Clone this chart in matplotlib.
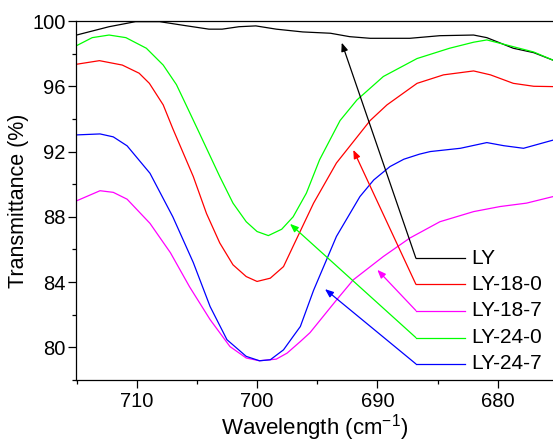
import numpy as np
import matplotlib
matplotlib.use('Agg')
import matplotlib.pyplot as plt

plt.rcParams['font.family'] = ['Liberation Sans', 'DejaVu Sans']
plt.rcParams['mathtext.default'] = 'regular'

# Datos (número de onda, transmitancia)
w_ly = [715, 712.3, 710.1, 708.1, 705.9, 704.0, 702.9, 701.5, 700.1, 698.4, 696.2,
        693.9, 692.3, 690.6, 687.3, 684.8, 682.0, 680.9, 678.7, 677.0, 675.4]
t_ly = [99.14, 99.65, 99.96, 99.96, 99.71, 99.5, 99.5, 99.65, 99.7, 99.5, 99.33,
        99.25, 99.04, 98.94, 98.94, 99.1, 99.14, 98.98, 98.33, 98.06, 97.6]

w_18_0 = [715, 713.1, 711.2, 709.8, 708.95, 707.8, 707.0, 705.3, 704.2, 703.1, 702.0,
          700.9, 700, 698.9, 697.8, 697.0, 695.3, 693.4, 690.6, 689.2, 686.7, 684.5,
          682.0, 680.6, 678.7, 677.0, 675.4]
t_18_0 = [97.35, 97.57, 97.3, 96.8, 96.18, 94.86, 93.4, 90.47, 88.2, 86.4, 85.06,
          84.34, 84.04, 84.24, 84.95, 86.2, 88.84, 91.3, 93.9, 94.86, 96.18, 96.7,
          96.94, 96.7, 96.18, 96.0, 95.98]

w_18_7 = [715, 713.05, 711.95, 710.8, 708.9, 707.2, 705.6, 703.9, 702.25, 700.9,
          699.8, 698.4, 697.5, 696.4, 695.6, 693.4, 692.0, 689.5, 687.3, 684.8,
          682.0, 679.8, 677.6, 675.4]
t_18_7 = [88.98, 89.6, 89.5, 89.08, 87.6, 85.8, 83.7, 81.7, 80.05, 79.35,
          79.18, 79.28, 79.65, 80.36, 80.9, 82.9, 84.14, 85.57, 86.7, 87.7,
          88.32, 88.63, 88.84, 89.24]

w_24_0 = [715, 713.7, 712.3, 710.9, 709.2, 707.8, 706.7, 705.9, 704.9, 703.1, 702.0,
          700.9, 700, 699.06, 697.95, 697.0, 695.9, 694.8, 693.1, 691.7, 689.5,
          686.7, 684.0, 682.0, 680.9, 679.25, 677.0, 675.4]
t_24_0 = [98.49, 98.98, 99.14, 98.98, 98.33, 97.3, 96.1, 94.86, 93.3, 90.47, 88.84,
          87.7, 87.1, 86.85, 87.24, 88.0, 89.45, 91.5, 93.9, 95.16, 96.6,
          97.7, 98.33, 98.7, 98.84, 98.53, 98.1, 97.6]

w_24_7 = [715, 713.05, 711.95, 710.8, 708.9, 707.0, 705.3, 703.9, 702.5, 700.9,
          699.8, 698.9, 697.8, 697.0, 696.4, 695.3, 693.4, 691.45, 690.3, 688.95,
          687.8, 686.5, 685.6, 683.1, 680.9, 679.5, 677.85, 675.4]
t_24_7 = [93.02, 93.08, 92.9, 92.35, 90.67, 88.0, 85.2, 82.5, 80.47, 79.45,
          79.18, 79.24, 79.85, 80.67, 81.28, 83.5, 86.8, 89.24, 90.26, 91.08,
          91.53, 91.84, 92.0, 92.2, 92.55, 92.36, 92.2, 92.7]

series = [('LY', w_ly, t_ly, 'black'),
          ('LY-18-0', w_18_0, t_18_0, '#ff0000'),
          ('LY-18-7', w_18_7, t_18_7, '#ff00ff'),
          ('LY-24-0', w_24_0, t_24_0, '#00ff00'),
          ('LY-24-7', w_24_7, t_24_7, '#0000ff')]

# Puntas de flecha y altura de cada etiqueta
arrow_tips = [(692.96, 98.67), (692.0, 92.1), (690.0, 84.75), (697.26, 87.57), (694.35, 83.57)]
label_y = [85.47, 83.87, 82.26, 80.6, 78.99]

fig = plt.figure(figsize=(5.53, 4.44), dpi=100)
ax = fig.add_axes([0.1374, 0.1441, 0.8626, 0.8086])

for (name, w, t, c), tip, ly in zip(series, arrow_tips, label_y):
    ax.plot(w, t, color=c, linewidth=0.9)
    ax.plot([686.8, 682.7], [ly, ly], color=c, linewidth=0.9)
    ax.annotate('', xy=tip, xytext=(686.8, ly),
                arrowprops=dict(arrowstyle='-|>,head_length=0.5,head_width=0.2',
                                color=c, lw=0.9, shrinkA=0, shrinkB=0))
    ax.text(682.2, ly, name, fontsize=15, va='center', ha='left')

ax.set_xlim(715.05, 675.4)
ax.set_ylim(78, 100)
ax.set_xticks([710, 700, 690, 680])
ax.set_xticks([715, 705, 695, 685], minor=True)
ax.set_yticks([80, 84, 88, 92, 96, 100])
ax.set_yticks([78, 82, 86, 90, 94, 98], minor=True)
ax.tick_params(which='major', direction='out', length=5.5, width=0.9, labelsize=14.5, pad=2)
ax.tick_params(which='minor', direction='out', length=3, width=0.9)
ax.tick_params(axis='x', pad=3)
ax.spines['right'].set_visible(False)
for s in ['left', 'bottom', 'top']:
    ax.spines[s].set_linewidth(0.9)

ax.set_xlabel('Wavelength (cm$^{-1}$)', fontsize=16, labelpad=1)
ax.set_ylabel('Transmittance (%)', fontsize=15.5, labelpad=2)

fig.savefig('out.png', dpi=100)
